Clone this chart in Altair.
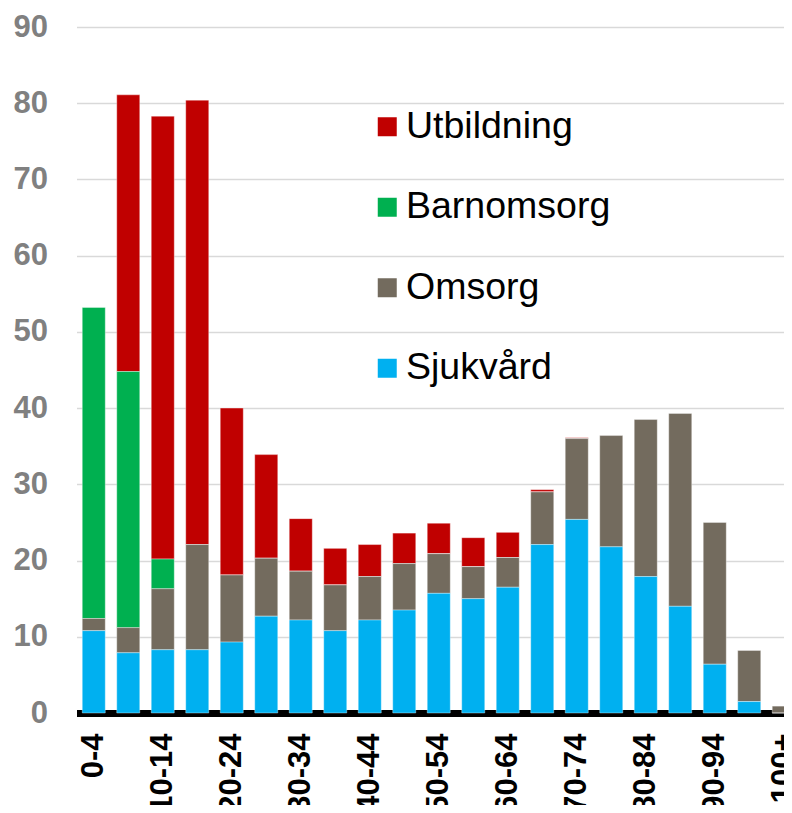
import altair as alt
import pandas as pd

ages = ["0-4", "5-9", "10-14", "15-19", "20-24", "25-29", "30-34", "35-39",
        "40-44", "45-49", "50-54", "55-59", "60-64", "65-69", "70-74", "75-79",
        "80-84", "85-89", "90-94", "95-99", "100+"]
sjukvard = [10.8, 7.9, 8.3, 8.3, 9.3, 12.7, 12.2, 10.8, 12.2, 13.5, 15.7,
            15.0, 16.5, 22.1, 25.4, 21.8, 17.9, 14.0, 6.4, 1.5, 0.0]
omsorg = [1.6, 3.3, 8.0, 13.8, 8.8, 7.6, 6.4, 6.0, 5.7, 6.1, 5.2,
          4.2, 3.9, 6.9, 10.6, 14.6, 20.6, 25.3, 18.6, 6.7, 0.9]
barnomsorg = [40.8, 33.6, 3.9, 0, 0, 0, 0, 0, 0, 0, 0,
              0, 0, 0, 0, 0, 0, 0, 0, 0, 0]
utbildning = [0, 36.3, 58.1, 58.3, 21.9, 13.6, 6.9, 4.8, 4.2, 4.0, 4.0,
              3.8, 3.3, 0.3, 0.1, 0, 0, 0, 0, 0, 0]

series = ["Utbildning", "Barnomsorg", "Omsorg", "Sjukvård"]
colors = ["#C00000", "#00B050", "#736B5E", "#00B0F0"]
stack_order = {"Sjukvård": 0, "Omsorg": 1, "Barnomsorg": 2, "Utbildning": 3}
values = {"Sjukvård": sjukvard, "Omsorg": omsorg,
          "Barnomsorg": barnomsorg, "Utbildning": utbildning}

rows = []
for s in series:
    for a, v in zip(ages, values[s]):
        rows.append({"age": a, "series": s, "value": v, "ord": stack_order[s]})
df = pd.DataFrame(rows)

font = "Liberation Sans, Arial, sans-serif"

chart = alt.Chart(df).mark_bar(
    stroke="#ffffff", strokeWidth=0.6, strokeOpacity=0.6
).encode(
    x=alt.X("age:N", sort=ages, title=None,
            scale=alt.Scale(paddingInner=0.333, paddingOuter=0.1667,
                            range=[0, 724.5]),
            axis=alt.Axis(values=ages[::2], labelAngle=-90, labelFontSize=31,
                          labelFontWeight="bold", labelColor="#000000",
                          labelFont=font, ticks=False, tickSize=0,
                          labelPadding=20, domainColor="#000000",
                          domainWidth=7, grid=False)),
    y=alt.Y("value:Q", title=None, stack="zero",
            scale=alt.Scale(domain=[0, 90], nice=False),
            axis=alt.Axis(values=list(range(0, 100, 10)), labelFontSize=31,
                          labelFontWeight="bold", labelColor="#808080",
                          labelFont=font, ticks=False, domain=False,
                          labelPadding=29, gridColor="#d9d9d9",
                          gridWidth=1.6)),
    color=alt.Color("series:N", sort=series,
                    scale=alt.Scale(domain=series, range=colors),
                    legend=alt.Legend(title=None, orient="none", legendX=292,
                                      legendY=81, symbolType="square",
                                      symbolSize=361, symbolStrokeWidth=0,
                                      labelFontSize=37.5, labelFont=font,
                                      labelColor="#000000", rowPadding=41.5,
                                      labelOffset=0, padding=0,
                                      labelLimit=500)),
    order=alt.Order("ord:Q", sort="ascending"),
).properties(
    width=707.5, height=686,
    autosize=alt.AutoSizeParams(type="none"),
    padding={"left": 68.5, "top": 19, "right": 0, "bottom": 92},
).configure_view(stroke=None)

chart.save("out.html", embed_options={"renderer": "svg", "actions": False})
